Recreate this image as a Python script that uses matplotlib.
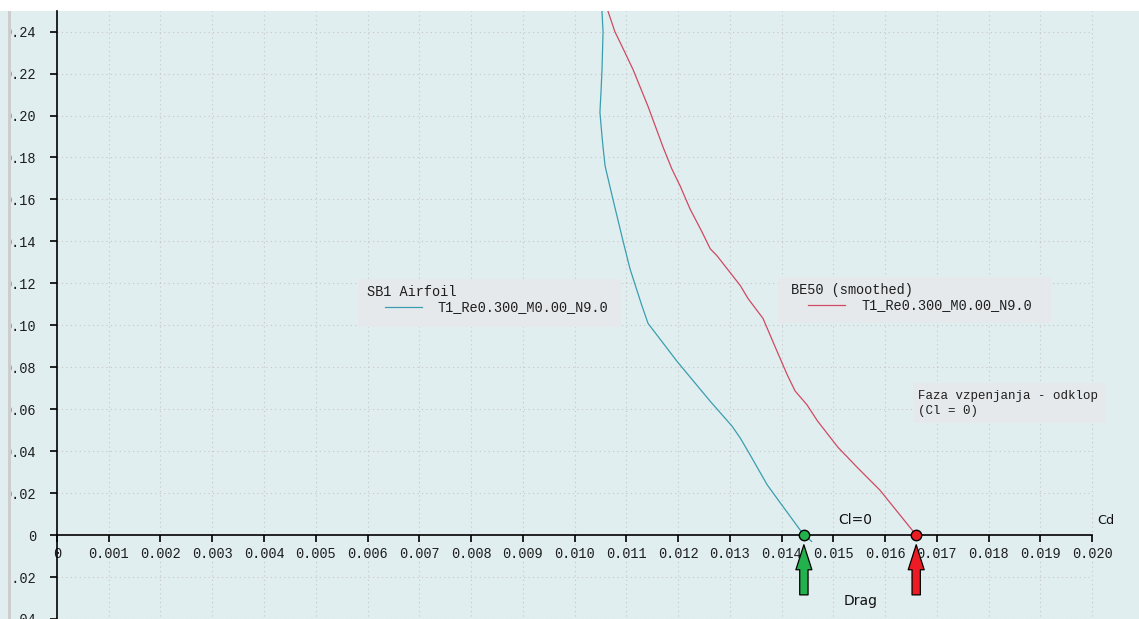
import matplotlib

matplotlib.use("Agg")
import matplotlib.pyplot as plt
import matplotlib.transforms as mtransforms
import numpy as np
from matplotlib.lines import Line2D
from matplotlib.patches import FancyArrowPatch, Rectangle

# Polars Cl(Cd), Re = 300k, M = 0, Ncrit = 9
sb1_cd = [0.01052, 0.01053, 0.01055, 0.01053, 0.01051, 0.01049, 0.01053, 0.01055,
          0.01059, 0.01074, 0.01094, 0.01107, 0.01130, 0.01142, 0.01198, 0.01262,
          0.01304, 0.01320, 0.01339, 0.01372, 0.01397, 0.01443, 0.01458]
sb1_cl = [0.2600, 0.2494, 0.2399, 0.2219, 0.2110, 0.2015, 0.1901, 0.1849,
          0.1759, 0.1602, 0.1398, 0.1270, 0.1094, 0.1009, 0.0828, 0.0638,
          0.0520, 0.0463, 0.0383, 0.0240, 0.0155, 0.0000, -0.0030]

be50_cd = [0.01050, 0.01065, 0.01078, 0.01092, 0.01113, 0.01142, 0.01171, 0.01188,
           0.01204, 0.01223, 0.01246, 0.01262, 0.01275, 0.01320, 0.01335, 0.01364,
           0.01391, 0.01411, 0.01426, 0.01449, 0.01469, 0.01509, 0.01546, 0.01590,
           0.01660]
be50_cl = [0.2600, 0.2494, 0.2399, 0.2328, 0.2219, 0.2043, 0.1849, 0.1745,
           0.1664, 0.1555, 0.1446, 0.1365, 0.1332, 0.1190, 0.1128, 0.1033,
           0.0877, 0.0763, 0.0687, 0.0621, 0.0545, 0.0418, 0.0323, 0.0214,
           0.0000]

polar_name = "T1_Re0.300_M0.00_N9.0"
x_ticks = np.round(np.arange(0, 0.0201, 0.001), 3)
y_ticks = np.round(np.arange(-0.04, 0.241, 0.02), 2)

BG = "#E1EEF0"
BOX = "#E6E9EC"
C_SB1 = "#3A9EB0"
C_BE50 = "#CF4A62"
GREEN = "#22B14C"
RED = "#ED1C24"
MONO = "Liberation Mono"

W, H = 1139, 619
fig = plt.figure(figsize=(W / 100, H / 100), dpi=100, facecolor="white")
ax = fig.add_axes([0, 0, 1, (H - 11) / H])
ax.set_facecolor(BG)
ax.set_xlim(-0.0011, 0.020904)
ax.set_ylim(-0.03878, 0.24983)

# pixel coordinates measured from the top-left corner of the image
pix = mtransforms.Affine2D().scale(1 / W, -1 / H).translate(0, 1) + fig.transFigure

for s in ("top", "right"):
    ax.spines[s].set_visible(False)
ax.spines["left"].set_position(("data", 0))
ax.spines["bottom"].set_position(("data", 0))
ax.spines["bottom"].set_bounds(0, 0.020)
for s in ("left", "bottom"):
    ax.spines[s].set_linewidth(1.2)

ax.set_xticks(x_ticks)
ax.set_xticklabels(["0" if v == 0 else f"{v:.3f}" for v in x_ticks])
ax.set_yticks(y_ticks)
ax.set_yticklabels(["0" if v == 0 else f"{v:.2f}" for v in y_ticks])
ax.tick_params(axis="x", length=5, width=1.2, pad=3.5, labelsize=9.8)
ax.tick_params(axis="y", length=5, width=1.2, pad=10, labelsize=9.8)
for lab in ax.get_xticklabels() + ax.get_yticklabels():
    lab.set_fontfamily(MONO)
    lab.set_color("#1E1E1E")

# dotted grid only over the positive drag range
for x in x_ticks[1:]:
    ax.plot([x, x], [-0.03878, 0.24983], color="#C6C6C6", lw=0.8,
            ls=(0, (1, 3)), zorder=0.5)
for y in y_ticks:
    if y != 0:
        ax.plot([0, 0.020], [y, y], color="#C6C6C6", lw=0.8,
                ls=(0, (1, 3)), zorder=0.5)

ax.plot(sb1_cd, sb1_cl, color=C_SB1, lw=0.9, zorder=3)
ax.plot(be50_cd, be50_cl, color=C_BE50, lw=0.9, zorder=3)

# Cl = 0 points on both polars
cd_zero = [sb1_cd[sb1_cl.index(0.0)], be50_cd[be50_cl.index(0.0)]]
for cd, col in zip(cd_zero, (GREEN, RED)):
    ax.plot(cd, 0, "o", ms=7.5, mfc=col, mec="black", mew=1.0, zorder=6,
            clip_on=False)
    arr = FancyArrowPatch((cd, -0.0285), (cd, -0.0046),
                          arrowstyle="simple,head_length=18,head_width=11.5,tail_width=6",
                          mutation_scale=1, shrinkA=0, shrinkB=0,
                          facecolor=col, edgecolor="black", lw=0.9, zorder=6)
    ax.add_patch(arr)

ax.text(855, 520, "Cl=0", transform=pix, ha="center", va="center",
        fontsize=10, color="#111111")
ax.text(861, 601, "Drag", transform=pix, ha="center", va="center",
        fontsize=10, color="#111111")
ax.text(1106, 521, "Cd", transform=pix, ha="center", va="center",
        fontsize=9.2, color="#111111")


def legend_box(x0, y0, x1, y1, title, color, tx, ty, lx0, lx1, ly, label_x):
    ax.add_patch(Rectangle((x0, y1), x1 - x0, y0 - y1, transform=pix,
                           facecolor=BOX, edgecolor="none", zorder=4))
    ax.text(tx, ty, title, transform=pix, ha="left", va="center",
            fontsize=9.8, family=MONO, color="#1E1E1E", zorder=5)
    ax.add_line(Line2D([lx0, lx1], [ly, ly], transform=pix, color=color,
                       lw=0.9, zorder=5))
    ax.text(label_x, ly, polar_name, transform=pix, ha="left", va="center",
            fontsize=9.8, family=MONO, color="#1E1E1E", zorder=5)


legend_box(358, 279, 621, 327, "SB1 Airfoil", C_SB1, 367, 292, 385, 422, 307, 437)
legend_box(778, 277, 1051, 323, "BE50 (smoothed)", C_BE50, 791, 290, 808, 845, 305, 861)

ax.add_patch(Rectangle((913, 423), 192, -40, transform=pix, facecolor=BOX,
                       edgecolor="none", zorder=4))
ax.text(918, 396, "Faza vzpenjanja - odklop", transform=pix, ha="left",
        va="center", fontsize=9.0, family=MONO, color="#1E1E1E", zorder=5)
ax.text(918, 411, "(Cl = 0)", transform=pix, ha="left", va="center",
        fontsize=9.0, family=MONO, color="#1E1E1E", zorder=5)

# window edge on the left, drawn over the cut-off tick labels
ax.add_patch(Rectangle((0, H), 8, -(H - 11), transform=pix, facecolor=BG,
                       edgecolor="none", zorder=7, clip_on=False))
ax.add_patch(Rectangle((8, H), 3, -(H - 11), transform=pix, facecolor="#CDCDCD",
                       edgecolor="none", zorder=7, clip_on=False))

fig.savefig("out.png", dpi=100, facecolor="white")
